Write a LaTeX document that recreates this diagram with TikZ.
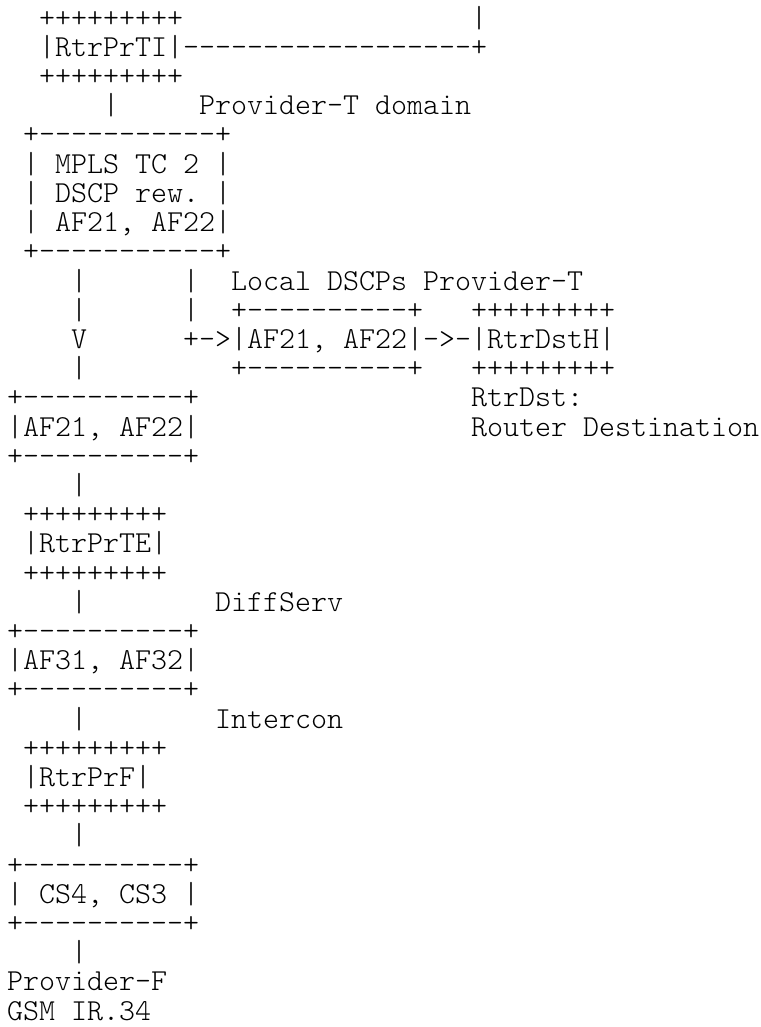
\documentclass[tikz,border=0pt]{standalone}
\usepackage{fontspec}
\setmonofont{Latin Modern Mono Light}
\tikzset{asc/.style={anchor=base west, inner sep=0pt, outer sep=0pt, text=black,
  font=\ttfamily\fontsize{30.48pt}{30pt}\selectfont}}
\newcommand\asline[3]{\node[asc] (#1) at (7pt,{-27.2pt-(#2-1)*29.2pt}) {#3};}
\begin{document}
\begin{tikzpicture}[x=1pt,y=1pt]
\useasboundingbox[fill=white] (0,0) rectangle (760,-1027);
\asline{l1}{1}{~~+++++++++~~~~~~~~~~~~~~~~~~|}
\asline{l2}{2}{~~|RtrPrTI|------------------+}
\asline{l3}{3}{~~+++++++++}
\asline{l4}{4}{~~~~~~|~~~~~Provider-T~domain}
\asline{l5}{5}{~+-----------+}
\asline{l6}{6}{~|~MPLS~TC~2~|}
\asline{l7}{7}{~|~DSCP~rew.~|}
\asline{l8}{8}{~|~AF21,~AF22|}
\asline{l9}{9}{~+-----------+}
\asline{l10}{10}{~~~~|~~~~~~|~~Local~DSCPs~Provider-T}
\asline{l11}{11}{~~~~|~~~~~~|~~+----------+~~~+++++++++}
\asline{l12}{12}{~~~~V~~~~~~+->|AF21,~AF22|->-|RtrDstH|}
\asline{l13}{13}{~~~~|~~~~~~~~~+----------+~~~+++++++++}
\asline{l14}{14}{+----------+~~~~~~~~~~~~~~~~~RtrDst:}
\asline{l15}{15}{|AF21,~AF22|~~~~~~~~~~~~~~~~~Router~Destination}
\asline{l16}{16}{+----------+}
\asline{l17}{17}{~~~~|}
\asline{l18}{18}{~+++++++++}
\asline{l19}{19}{~|RtrPrTE|}
\asline{l20}{20}{~+++++++++}
\asline{l21}{21}{~~~~|~~~~~~~~DiffServ}
\asline{l22}{22}{+----------+}
\asline{l23}{23}{|AF31,~AF32|}
\asline{l24}{24}{+----------+}
\asline{l25}{25}{~~~~|~~~~~~~~Intercon}
\asline{l26}{26}{~+++++++++}
\asline{l27}{27}{~|RtrPrF|}
\asline{l28}{28}{~+++++++++}
\asline{l29}{29}{~~~~|}
\asline{l30}{30}{+----------+}
\asline{l31}{31}{|~CS4,~CS3~|}
\asline{l32}{32}{+----------+}
\asline{l33}{33}{~~~~|}
\asline{l34}{34}{Provider-F}
\asline{l35}{35}{GSM~IR.34}
\end{tikzpicture}
\end{document}
